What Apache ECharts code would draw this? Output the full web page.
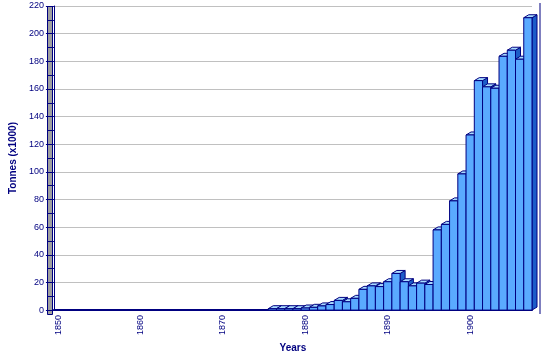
<!DOCTYPE html>
<html><head><meta charset="utf-8">
<script src="https://cdn.jsdelivr.net/npm/echarts@6/dist/echarts.min.js"></script>
<style>html,body{margin:0;padding:0;background:#fff}#c{width:548px;height:358px}</style>
</head><body><div id="c"></div>
<script>
const years = [];
for (let y = 1850; y <= 1907; y++) years.push(String(y));
const tonnes = [
  0,0,0,0,0,0,0,0,0,0,            // 1850-1859
  0,0,0,0,0,0,0,0,0,0,            // 1860-1869
  0,0,0,0,0,0,1,1,1,1,            // 1870-1879
  1.5,2,3,4,7,6,8.5,15,17.5,17,   // 1880-1889
  20.5,26.5,20.5,17.5,19.5,18.5,58,62,79,98.5, // 1890-1899
  126.7,166,161.5,160.5,183.6,188,181.5,211.5  // 1900-1907
];
const yTicks = {min: 0, max: 220, step: 20};

const navy = '#000080';
const chart = echarts.init(document.getElementById('c'), null, {renderer: 'canvas'});
const DX = 5, DY = 3;
function renderItem(params, api) {
  const idx = api.value(0), v = api.value(1);
  if (!v) return null;
  const p0 = api.coord([idx, 0]);
  const p1 = api.coord([idx, v]);
  const w = api.size([1, 0])[0];
  const l = p1[0] - w / 2, r = p1[0] + w / 2, t = p1[1], b = p0[1];
  const st = {stroke: navy, lineWidth: 1};
  return {
    type: 'group',
    children: [
      {type: 'polygon', shape: {points: [[r, t], [r + DX, t - DY], [r + DX, b - DY], [r, b]]},
        style: Object.assign({fill: '#1c5cc8'}, st)},
      {type: 'polygon', shape: {points: [[l, t], [l + DX, t - DY], [r + DX, t - DY], [r, t]]},
        style: Object.assign({fill: '#a8dcff'}, st)},
      {type: 'rect', shape: {x: l, y: t, width: w, height: b - t},
        style: Object.assign({fill: '#5aaaff'}, st)}
    ]
  };
}
chart.setOption({
  animation: false,
  grid: {left: 52, right: 16, top: 6, bottom: 44},
  xAxis: {
    type: 'category', data: years, boundaryGap: true,
    name: 'Years', nameLocation: 'middle', nameGap: 22,
    nameTextStyle: {color: navy, fontWeight: 'bold', fontSize: 10, fontFamily: 'Liberation Sans'},
    axisLine: {lineStyle: {color: navy, width: 2}},
    axisTick: {interval: 4, alignWithLabel: true, length: 4, lineStyle: {color: navy}},
    axisLabel: {interval: 9, rotate: 90, color: navy, fontSize: 9, fontFamily: 'Liberation Sans', margin: 5}
  },
  yAxis: {
    type: 'value', min: yTicks.min, max: yTicks.max, interval: yTicks.step,
    name: 'Tonnes (x1000)', nameLocation: 'middle', nameGap: 34, nameRotate: 90,
    nameTextStyle: {color: navy, fontWeight: 'bold', fontSize: 10, fontFamily: 'Liberation Sans'},
    axisLine: {show: true, lineStyle: {color: navy, width: 1}},
    axisTick: {show: true, length: 8, lineStyle: {color: navy}},
    minorTick: {show: true, splitNumber: 2, length: 6, lineStyle: {color: navy}},
    axisLabel: {color: navy, fontSize: 9, fontFamily: 'Liberation Sans', margin: 10},
    splitLine: {lineStyle: {color: '#c0c0c0', width: 1}}
  },
  graphic: [
    {type: 'rect', left: 47, top: 6, shape: {width: 5, height: 308}, z: 0,
      style: {fill: '#a0a0a0', stroke: navy, lineWidth: 1}},
    {type: 'line', shape: {x1: 540, y1: 3, x2: 540, y2: 314}, z: 0,
      style: {stroke: navy, lineWidth: 1}}
  ],
  series: [{
    type: 'custom', renderItem: renderItem,
    data: tonnes.map((v, i) => [i, v]),
    encode: {x: 0, y: 1}, z: 5
  }]
});
</script></body></html>
